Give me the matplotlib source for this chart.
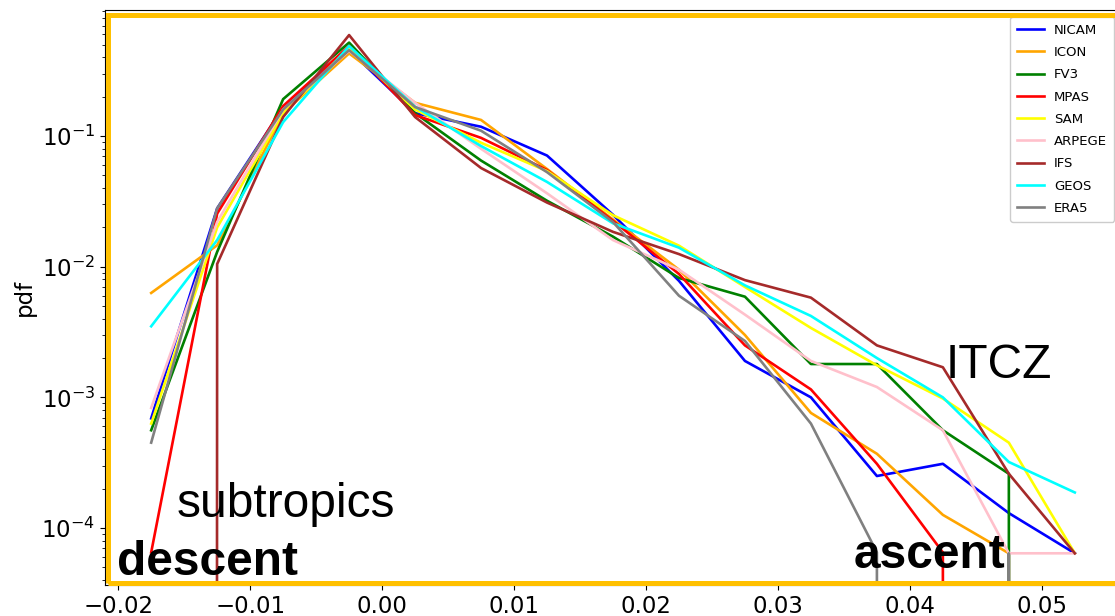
import matplotlib
matplotlib.use("Agg")
import matplotlib.pyplot as plt
from matplotlib.patches import Rectangle

# bin centres of vertical velocity (Pa/s)
omega_bins = [-0.0175, -0.0125, -0.0075, -0.0025, 0.0025, 0.0075, 0.0125,
              0.0175, 0.0225, 0.0275, 0.0325, 0.0375, 0.0425, 0.0475, 0.0525]

nicam = [6.9e-4, 0.028, 0.165, 0.455, 0.15, 0.118, 0.071, 0.025, 0.0078,
         0.0019, 0.001, 2.5e-4, 3.1e-4, 1.3e-4, 6.4e-5]
icon = [6.3e-3, 0.0146, 0.15, 0.43, 0.18, 0.133, 0.056, 0.023, 0.0095,
        0.003, 7.6e-4, 3.7e-4, 1.26e-4, 6.4e-5, 0.0]
fv3 = [5.6e-4, 0.013, 0.192, 0.52, 0.15, 0.065, 0.032, 0.017, 0.0082,
       0.0059, 0.0018, 0.0018, 5.6e-4, 2.6e-4, 0.0]
mpas = [6.5e-5, 0.0255, 0.17, 0.49, 0.145, 0.097, 0.055, 0.0225, 0.0088,
        0.0025, 0.00115, 3.1e-4, 6.5e-5, 0.0, 0.0]
sam = [6.3e-4, 0.02, 0.15, 0.47, 0.16, 0.089, 0.054, 0.0248, 0.0145,
       0.007, 0.0034, 0.00176, 9.8e-4, 4.5e-4, 6.4e-5]
arpege = [8.3e-4, 0.022, 0.16, 0.45, 0.18, 0.08, 0.0365, 0.016, 0.0095,
          0.0043, 0.0019, 0.0012, 5.6e-4, 6.4e-5, 6.4e-5]
ifs = [0.0, 0.0105, 0.14, 0.594, 0.14, 0.057, 0.031, 0.0185, 0.0125,
       0.0079, 0.0058, 0.0025, 0.0017, 2.6e-4, 6.4e-5]
geos = [3.5e-3, 0.016, 0.128, 0.49, 0.168, 0.084, 0.0446, 0.0215, 0.014,
        0.0072, 0.0042, 0.002, 0.001, 3.2e-4, 1.87e-4]
era5 = [4.5e-4, 0.028, 0.16, 0.455, 0.167, 0.11, 0.053, 0.022, 0.006,
        0.0027, 6.3e-4, 6.5e-5, 0.0, 6.4e-5, 0.0]

model_names = ["NICAM", "ICON", "FV3", "MPAS", "SAM", "ARPEGE", "IFS", "GEOS", "ERA5"]
model_pdfs = [nicam, icon, fv3, mpas, sam, arpege, ifs, geos, era5]
model_colors = ["blue", "orange", "green", "red", "yellow", "pink", "brown", "cyan", "gray"]

W, H = 1115, 616
fig = plt.figure(figsize=(W / 100, H / 100), dpi=100)
ax = fig.add_axes([105 / W, (H - 585) / H, 1016 / W, 575 / H])
ax.set_yscale("log")

for name, pdf, col in zip(model_names, model_pdfs, model_colors):
    ax.plot(omega_bins, pdf, color=col, lw=1.9, label=name)

ax.set_xlim(-0.021, 0.056)
ax.set_ylim(3.66e-5, 0.924)
ax.set_ylabel("pdf", fontsize=16.5)
ax.tick_params(axis="both", labelsize=16.5)
ax.legend(loc="upper right", fontsize=9.5, framealpha=1.0,
          labelspacing=0.7, borderpad=0.55)

# highlight frame around the plotting area
frame = Rectangle((107.5 / W, (H - 582.5) / H), (1200 - 107.5) / W, (582.5 - 14.5) / H,
                  transform=fig.transFigure, fill=False, edgecolor="#FFC000",
                  linewidth=3.6, clip_on=False, zorder=10)
fig.patches.append(frame)

labels_font = dict(family="Liberation Sans", fontsize=34.5, color="black", va="baseline", ha="left")
fig.text(177 / W, (H - 517) / H, "subtropics", **labels_font)
fig.text(117 / W, (H - 575) / H, "descent", fontweight="bold", **labels_font)
fig.text(854 / W, (H - 568) / H, "ascent", fontweight="bold", **labels_font)
fig.text(946 / W, (H - 378) / H, "ITCZ", **labels_font)

fig.savefig("out.png", dpi=100)
